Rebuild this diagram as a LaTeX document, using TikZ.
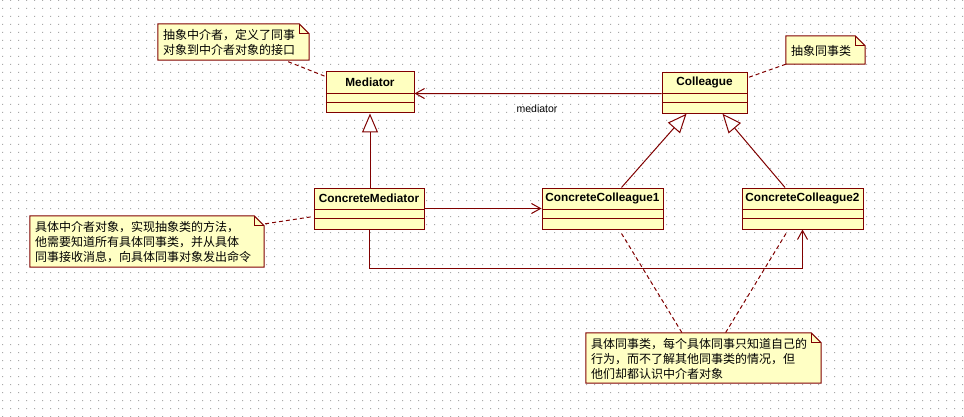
\documentclass[tikz,border=0pt]{standalone}
\usepackage{fontspec}
\setmainfont{Liberation Sans}
\newfontfamily\cjkfont{Noto Sans CJK SC}
\usetikzlibrary{arrows.meta,calc}

\definecolor{umlline}{HTML}{800000}
\definecolor{umlfill}{HTML}{FFFFC0}
\definecolor{notefill}{HTML}{FFFFC4}
\definecolor{griddot}{HTML}{A8A8A8}

\tikzset{
  umlclass/.style={draw=umlline, fill=umlfill, line width=1pt, rectangle,
    inner sep=0pt, minimum height=41pt},
  classname/.style={font=\fontsize{11.8}{14}\selectfont\bfseries, text=black, inner sep=0pt},
  notebox/.style={rectangle, inner sep=0pt},
  notetext/.style={font=\cjkfont\fontsize{12}{15}\selectfont, align=left,
    inner sep=0pt, anchor=west},
  roletext/.style={font=\fontsize{10.5}{12}\selectfont, text=black, inner sep=0pt},
  link/.style={draw=umlline, line width=1pt},
  dashlink/.style={draw=umlline, line width=1pt, dash pattern=on 4pt off 3pt},
  inherit/.style={link, -{Triangle[open, length=19pt, width=16pt, fill=white]}},
  navig/.style={link, -{Straight Barb[length=9pt, width=10pt]}},
}

% class box: name, x, y, width, title
\newcommand\umlbox[5]{%
  \node[umlclass, minimum width=#4pt] (#1) at (#2,#3) {};
  \draw[link] ($(#1.north west)+(0,22)$) -- ($(#1.north east)+(0,22)$);
  \draw[link] ($(#1.north west)+(0,31)$) -- ($(#1.north east)+(0,31)$);
  \node[classname] (#1-name) at ($(#1.north)+(0,11)$) {#5};%
}

% note with folded corner: name, x, y, width, height, text
\newcommand\umlnote[6]{%
  \node[notebox, minimum width=#4pt, minimum height=#5pt] (#1) at (#2,#3) {};
  \filldraw[draw=umlline, fill=notefill, line width=1pt]
    (#1.north west) -- ($(#1.north east)+(-10,0)$) -- ($(#1.north east)+(0,10)$)
    -- (#1.south east) -- (#1.south west) -- cycle;
  \draw[link] ($(#1.north east)+(-10,0)$) |- ($(#1.north east)+(0,10)$);
  \node[notetext] (#1-text) at ($(#1.west)+(5,0.5)$) {#6};%
}

\begin{document}
\begin{tikzpicture}[x=1pt, y=-1pt]
  \useasboundingbox (0,0) rectangle (964,417);
  \fill[white] (0,0) rectangle (964,417);
  % dotted drawing grid
  \fill[griddot] \foreach \i in {0,...,120} {\foreach \j in {0,...,52} {(8*\i+2, 8*\j) rectangle ++(1,1)}};

  % classes
  \umlbox{med}{370}{92.5}{88}{Mediator}
  \umlbox{col}{704.5}{92.75}{85}{Colleague}
  \umlbox{cm}{369}{208.5}{110}{ConcreteMediator}
  \umlbox{cc1}{602.5}{208.5}{121}{ConcreteColleague1}
  \umlbox{cc2}{802.5}{208.5}{121}{ConcreteColleague2}

  % notes
  \umlnote{n1}{233.5}{42}{151}{36}{抽象中介者，定义了同事\\对象到中介者对象的接口}
  \umlnote{n2}{825.5}{50}{79}{28}{抽象同事类}
  \umlnote{n3}{147}{241.5}{234}{51}{具体中介者对象，实现抽象类的方法，\\他需要知道所有具体同事类，并从具体\\同事接收消息，向具体同事对象发出命令}
  \umlnote{n4}{703.5}{358}{235}{50}{具体同事类，每个具体同事只知道自己的\\行为，而不了解其他同事类的情况，但\\他们却都认识中介者对象}

  % association Colleague -> Mediator
  \draw[navig] ($(col.north west)+(0,22)$) -- ($(med.north east)+(0,22)$);
  \node[roletext] (role) at (537,109) {mediator};

  % generalizations
  \draw[inherit] (cm.north -| med.south) -- (med.south);
  \draw[inherit] ($(cc1.north)+(19,0)$) -- ($(col.south)+(-18,0)$);
  \draw[inherit] ($(cc2.north)+(-17.5,0)$) -- ($(col.south)+(18,0)$);

  % ConcreteMediator knows both concrete colleagues
  \draw[navig] (cm.east) -- (cm.east -| cc1.west);
  \draw[navig] (cm.south) |- ($(cc2.south)+(0,39)$) -- (cc2.south);

  % note anchors
  \draw[dashlink] ($(n1.south east)+(-21,1.5)$) -- ($(med.north west)+(0,5)$);
  \draw[dashlink] (n2.south west) -- ($(col.north east)+(0,6)$);
  \draw[dashlink] ($(n3.north east)+(1,8)$) -- ($(cm.north west)+(0,29)$);
  \draw[dashlink] ($(cc1.south)+(19,4)$) -- ($(n4.north)+(-21.5,0)$);
  \draw[dashlink] ($(cc2.south)+(-16.5,4)$) -- ($(n4.north)+(22,0)$);
\end{tikzpicture}
\end{document}
